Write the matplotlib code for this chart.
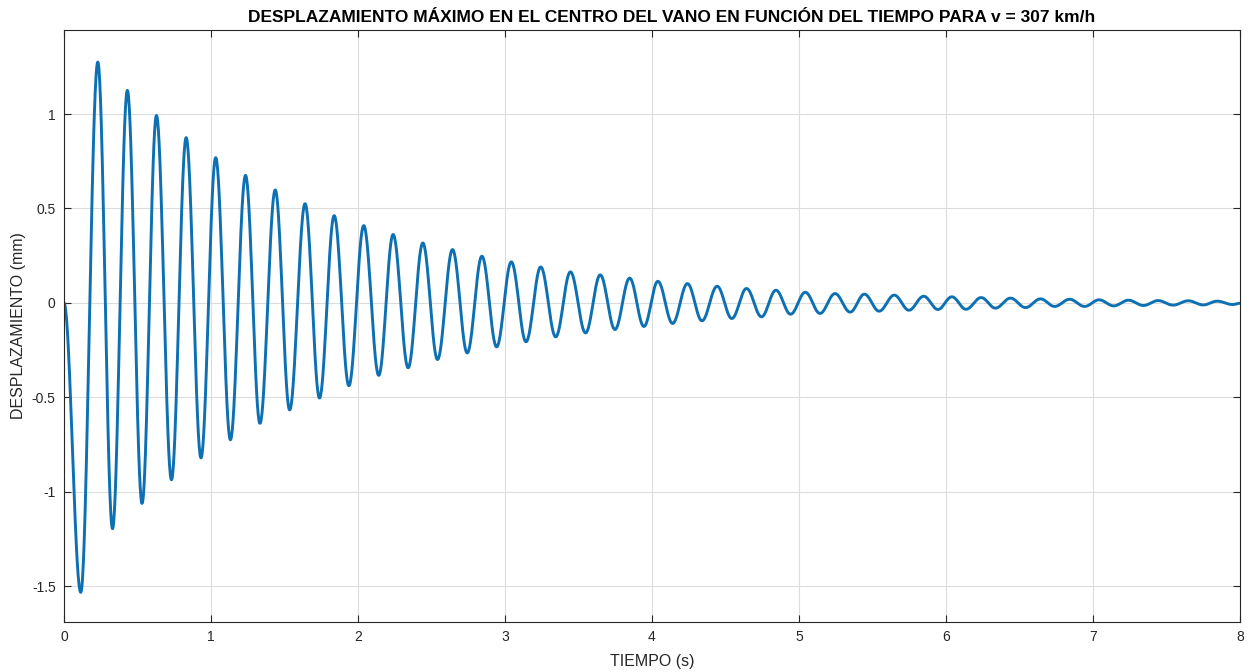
import numpy as np
import matplotlib
matplotlib.use("Agg")
import matplotlib.pyplot as plt
from matplotlib.ticker import FuncFormatter

plt.rcParams['font.family'] = ['Liberation Sans', 'DejaVu Sans']
plt.rcParams['axes.unicode_minus'] = False

# Extrema of the displacement curve (time in s, displacement in mm)
ext_t = [0.0, 0.114, 0.230, 0.330, 0.431, 0.531, 0.629, 0.731, 0.831, 0.932, 1.032,
         1.132, 1.235, 1.333, 1.437, 1.535, 1.640, 1.738, 1.838, 1.938, 2.039,
         2.141, 2.239, 2.341, 2.441, 2.541, 2.643, 2.743, 2.843, 2.943, 3.043,
         3.143, 3.243, 3.345, 3.445, 3.548, 3.648, 3.748, 3.848, 3.945, 4.040,
         4.140, 4.241, 4.340, 4.443, 4.543, 4.643, 4.745, 4.843, 4.943, 5.043,
         5.143, 5.245, 5.348, 5.445, 5.545, 5.648, 5.748, 5.848, 5.945, 6.040,
         6.136, 6.239, 6.336, 6.439, 6.541, 6.643, 6.739, 6.841, 6.943, 7.041,
         7.141, 7.241, 7.343, 7.443, 7.545, 7.648, 7.750, 7.845, 7.950, 8.0]
ext_y = [0.0, -1.533, 1.275, -1.196, 1.125, -1.062, 0.992, -0.937, 0.875, -0.821, 0.769,
         -0.725, 0.675, -0.638, 0.598, -0.567, 0.525, -0.504, 0.462, -0.439, 0.409,
         -0.384, 0.362, -0.344, 0.317, -0.300, 0.282, -0.265, 0.247, -0.233, 0.217,
         -0.206, 0.190, -0.180, 0.164, -0.159, 0.148, -0.141, 0.131, -0.125, 0.114,
         -0.109, 0.102, -0.095, 0.088, -0.083, 0.076, -0.074, 0.067, -0.060, 0.056,
         -0.056, 0.049, -0.049, 0.046, -0.044, 0.041, -0.039, 0.035, -0.035, 0.032,
         -0.034, 0.028, -0.028, 0.025, -0.025, 0.021, -0.019, 0.019, -0.019, 0.016,
         -0.016, 0.014, -0.014, 0.012, -0.012, 0.011, -0.011, 0.009, -0.009, -0.002]

x_ticks = [0, 1, 2, 3, 4, 5, 6, 7, 8]
y_ticks = [-1.5, -1, -0.5, 0, 0.5, 1]

title = "DESPLAZAMIENTO MÁXIMO EN EL CENTRO DEL VANO EN FUNCIÓN DEL TIEMPO PARA v = 307 km/h"
xlabel = "TIEMPO (s)"
ylabel = "DESPLAZAMIENTO (mm)"

# render each half-cycle between consecutive extrema with a smooth cosine shape
tt, yy = [], []
s = np.linspace(0, 1, 40)
for i in range(len(ext_t) - 1):
    t0, t1 = ext_t[i], ext_t[i + 1]
    y0, y1 = ext_y[i], ext_y[i + 1]
    tt.append(t0 + s * (t1 - t0))
    yy.append(y0 + (y1 - y0) * (1 - np.cos(np.pi * s)) / 2)
tt = np.concatenate(tt)
yy = np.concatenate(yy)

fig = plt.figure(figsize=(12.5, 6.72), dpi=100)
ax = fig.add_axes([0.0512, 0.0744, 0.9408, 0.881])
ax.plot(tt, yy, color='#0C70B2', linewidth=2.1)

ax.set_xlim(0, 8)
ax.set_ylim(-1.69, 1.445)
ax.set_xticks(x_ticks)
ax.set_yticks(y_ticks)
ax.xaxis.set_major_formatter(FuncFormatter(lambda v, p: '%g' % v))
ax.yaxis.set_major_formatter(FuncFormatter(lambda v, p: '%g' % v))
ax.grid(True, color='#DCDCDC', linewidth=0.8)
ax.set_axisbelow(True)
ax.tick_params(direction='in', top=True, right=True, length=5, width=0.8,
               colors='#262626', labelsize=10, labelcolor='#262626', pad=6)
for sp in ax.spines.values():
    sp.set_color('#262626')
    sp.set_linewidth(0.8)

ax.set_title(title, fontsize=12.5, fontweight='bold', pad=6, x=0.517)
ax.set_xlabel(xlabel, fontsize=11.5, color='#262626', labelpad=7)
ax.set_ylabel(ylabel, fontsize=11.5, color='#262626', labelpad=4)

fig.savefig('out.png', dpi=100)
